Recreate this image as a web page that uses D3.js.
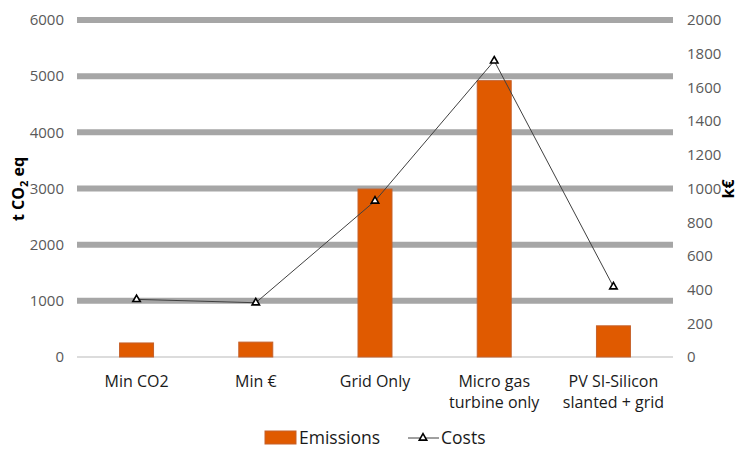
<!DOCTYPE html>
<html><head><meta charset="utf-8">
<script src="https://cdn.jsdelivr.net/npm/d3@7"></script>
<style>body{margin:0;background:#fff}svg{display:block}text{font-family:"Open Sans","Noto Sans",sans-serif}</style>
</head><body><svg id="c" width="740" height="450"></svg>
<script>
const categories = [["Min CO2"],["Min €"],["Grid Only"],["Micro gas","turbine only"],["PV SI-Silicon","slanted + grid"]];
const emissions = [250, 265, 2990, 4920, 555];
const costs = [342, 322, 926, 1758, 417];
const leftTicks = [0,1000,2000,3000,4000,5000,6000];
const rightTicks = [0,200,400,600,800,1000,1200,1400,1600,1800,2000];

const svg = d3.select("#c");
const m = {l:77, r:673, t:20, b:357};
const x = d3.scaleBand().domain(d3.range(categories.length)).range([m.l, m.r]).paddingInner(0.715).paddingOuter(0.357);
const yL = d3.scaleLinear().domain([0,6000]).range([m.b, m.t]);
const yR = d3.scaleLinear().domain([0,2000]).range([m.b, m.t]);

// gridlines
svg.append("g").selectAll("line").data(leftTicks.filter(d=>d>0)).join("line")
  .attr("x1", m.l).attr("x2", m.r).attr("y1", d=>yL(d)).attr("y2", d=>yL(d))
  .attr("stroke", "#a6a6a6").attr("stroke-width", 6);
svg.append("line").attr("x1", m.l).attr("x2", m.r).attr("y1", yL(0)).attr("y2", yL(0))
  .attr("stroke", "#d0d0d0").attr("stroke-width", 1.5);

// axis labels
const axL = d3.axisLeft(yL).tickValues(leftTicks).tickSize(0).tickPadding(0).tickFormat(d3.format("d"));
const gL = svg.append("g").attr("transform", `translate(${m.l-13},0)`).call(axL);
gL.select(".domain").remove();
gL.selectAll("text").attr("font-size", 15).attr("fill", "#595959").attr("font-family", '"Open Sans",sans-serif');

const axR = d3.axisRight(yR).tickValues(rightTicks).tickSize(0).tickPadding(0).tickFormat(d3.format("d"));
const gR = svg.append("g").attr("transform", `translate(${m.r+14},0)`).call(axR);
gR.select(".domain").remove();
gR.selectAll("text").attr("font-size", 15).attr("fill", "#595959").attr("font-family", '"Open Sans",sans-serif');

// bars
svg.append("g").selectAll("rect").data(emissions).join("rect")
  .attr("x", (d,i)=>x(i)).attr("width", x.bandwidth())
  .attr("y", d=>yL(d)).attr("height", d=>yL(0)-yL(d))
  .attr("fill", "#e05a00").attr("stroke", "#c5602a").attr("stroke-width", 1);

// line
const cx = i => x(i) + x.bandwidth()/2;
svg.append("path").datum(costs)
  .attr("d", d3.line().x((d,i)=>cx(i)).y(d=>yR(d)))
  .attr("fill", "none").attr("stroke", "#404040").attr("stroke-width", 1);
const tri = d3.symbol().type(d3.symbolTriangle).size(24);
svg.append("g").selectAll("path").data(costs).join("path")
  .attr("d", tri).attr("transform", (d,i)=>`translate(${cx(i)},${yR(d)})`)
  .attr("fill", "#fff").attr("stroke", "#000").attr("stroke-width", 1.6);

// x labels
const xl = svg.append("g").selectAll("text").data(categories).join("text")
  .attr("x", (d,i)=>cx(i)).attr("y", 387).attr("text-anchor", "middle")
  .attr("font-size", 16).attr("fill", "#1a1a1a");
xl.selectAll("tspan").data(d=>d).join("tspan")
  .attr("x", function(){return this.parentNode.getAttribute("x");})
  .attr("dy", (d,i)=>i===0?0:21).text(d=>d);

// axis titles
const t1 = svg.append("text").attr("transform", "translate(24,189) rotate(-90)")
  .attr("text-anchor", "middle").attr("font-size", 16).attr("font-weight", "bold").attr("fill", "#000");
t1.append("tspan").text("t CO");
t1.append("tspan").attr("font-size", 11).attr("dy", 4).text("2");
t1.append("tspan").attr("dy", -4).text(" eq");
svg.append("text").attr("transform", "translate(734,189) rotate(-90)")
  .attr("text-anchor", "middle").attr("font-size", 16).attr("font-weight", "bold").text("k€");

// legend
const lg = svg.append("g");
lg.append("rect").attr("x", 265).attr("y", 431).attr("width", 31).attr("height", 13).attr("fill", "#e05a00").attr("stroke","#c5602a");
lg.append("text").attr("x", 299).attr("y", 444).attr("font-size", 17.5).attr("fill", "#1a1a1a").text("Emissions");
lg.append("line").attr("x1", 408).attr("x2", 439).attr("y1", 438).attr("y2", 438).attr("stroke", "#404040");
lg.append("path").attr("d", tri).attr("transform", "translate(423,438)").attr("fill","#fff").attr("stroke","#000").attr("stroke-width",1.6);
lg.append("text").attr("x", 441).attr("y", 444).attr("font-size", 17.5).attr("fill", "#1a1a1a").text("Costs");
</script></body></html>
